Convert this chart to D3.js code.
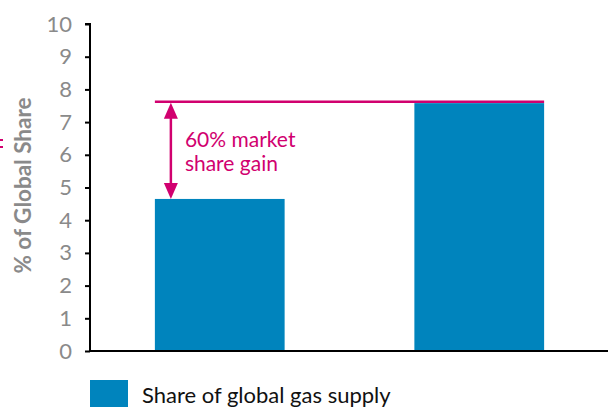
<!DOCTYPE html>
<html>
<head>
<meta charset="utf-8">
<script src="https://cdn.jsdelivr.net/npm/d3@7/dist/d3.min.js"></script>
<style>
  html, body { margin: 0; padding: 0; background: #fff; }
  svg { display: block; font-family: "Lato", "Open Sans", sans-serif; }
</style>
</head>
<body>
<svg id="chart" width="610" height="407"></svg>
<script>
// Chart data
const categories = ["Earlier", "Later"];
const shareValues = [4.65, 7.58];
const yTicks = [0, 1, 2, 3, 4, 5, 6, 7, 8, 9, 10];
const seriesName = "Share of global gas supply";
const axisTitle = "% of Global Share";
const gainLevel = [7.62];
const gainLabel = ["60% market", "share gain"];

const BLUE = "#0084BD";
const MAGENTA = "#D1006F";
const GREY = "#8a8a8a";

const svg = d3.select("#chart");

const x = d3.scaleBand().domain(categories).range([90, 609]).paddingInner(0.5).paddingOuter(0.25);
const y = d3.scaleLinear().domain([0, 10]).range([351, 24]);

// Bars
svg.append("g").selectAll("rect")
  .data(categories.map((c, i) => ({ c, v: shareValues[i] })))
  .join("rect")
  .attr("x", d => x(d.c))
  .attr("y", d => y(d.v))
  .attr("width", x.bandwidth())
  .attr("height", d => y(0) - y(d.v))
  .attr("fill", BLUE);

// Y axis
const yAxis = svg.append("g")
  .attr("transform", "translate(90,0)")
  .call(d3.axisLeft(y).tickValues(yTicks).tickSize(5).tickPadding(13).tickFormat(d3.format("d")));
yAxis.select(".domain").attr("stroke", "#000").attr("stroke-width", 2).attr("d", `M-5,${y(10)}H0V${y(0)}`);
yAxis.selectAll(".tick line").attr("stroke", "#000").attr("stroke-width", 2);
yAxis.selectAll(".tick text").attr("fill", GREY).style("font-size", "22px")
  .style("font-family", "Lato, sans-serif");

// X baseline
svg.append("line")
  .attr("x1", 90).attr("x2", 608)
  .attr("y1", y(0)).attr("y2", y(0))
  .attr("stroke", "#000").attr("stroke-width", 2);

// Axis title
svg.append("text")
  .attr("transform", `translate(31,${(y(0) + y(10)) / 2 - 2}) rotate(-90)`)
  .attr("text-anchor", "middle")
  .attr("fill", GREY)
  .style("font-size", "22.5px")
  .style("font-weight", "bold")
  .text(axisTitle);

// Small clipped marker at the left edge
svg.append("g").selectAll("rect")
  .data([0, 1])
  .join("rect")
  .attr("x", 0).attr("y", d => 139 + d * 7)
  .attr("width", 3).attr("height", 2)
  .attr("fill", MAGENTA);

// Gain reference line
const lineX0 = x(categories[0]);
const lineX1 = x(categories[1]) + x.bandwidth();
svg.append("line")
  .attr("x1", lineX0).attr("x2", lineX1)
  .attr("y1", y(gainLevel[0])).attr("y2", y(gainLevel[0]))
  .attr("stroke", MAGENTA).attr("stroke-width", 2.5);

// Double-headed arrow between the first bar and the reference line
const ax = x(categories[0]) + 16;
const yTop = y(gainLevel[0]) + 1;
const yBot = y(shareValues[0]);
const head = 16, half = 7;
svg.append("line")
  .attr("x1", ax).attr("x2", ax)
  .attr("y1", yTop + head - 2).attr("y2", yBot - head + 2)
  .attr("stroke", MAGENTA).attr("stroke-width", 2.5);
svg.append("path")
  .attr("d", `M${ax},${yTop}L${ax - half},${yTop + head}L${ax + half},${yTop + head}Z`)
  .attr("fill", MAGENTA);
svg.append("path")
  .attr("d", `M${ax},${yBot}L${ax - half},${yBot - head}L${ax + half},${yBot - head}Z`)
  .attr("fill", MAGENTA);

// Annotation text, one element per line
svg.append("g").selectAll("text")
  .data(gainLabel)
  .join("text")
  .attr("x", ax + 14)
  .attr("y", (d, i) => 147 + i * 24)
  .attr("fill", MAGENTA)
  .style("font-size", "21px")
  .text(d => d);

// Legend
svg.append("rect")
  .attr("x", 90).attr("y", 380).attr("width", 38).attr("height", 27)
  .attr("fill", BLUE);
svg.append("text")
  .attr("x", 142).attr("y", 403)
  .attr("fill", "#111")
  .style("font-size", "22px")
  .text(seriesName);
</script>
</body>
</html>
